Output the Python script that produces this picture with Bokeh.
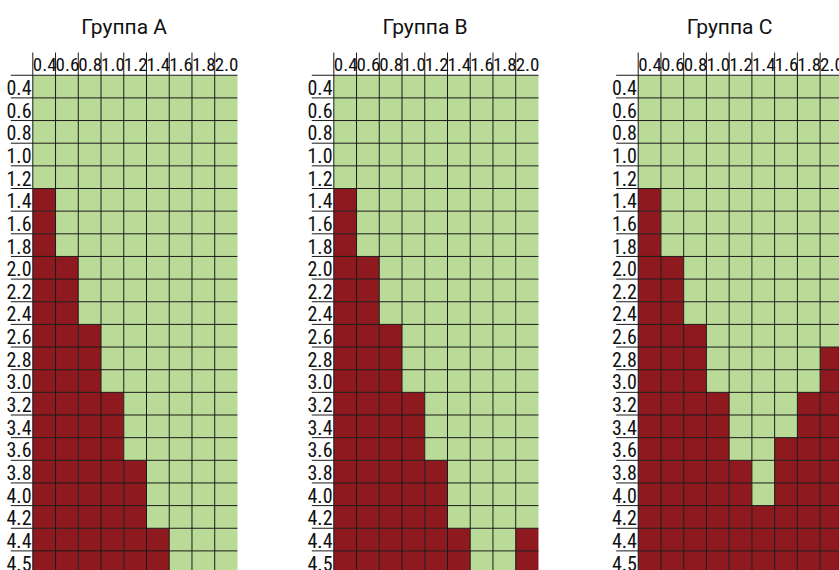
from bokeh.plotting import figure
from bokeh.models import Range1d
from bokeh.embed import file_html
from bokeh.resources import INLINE
from bokeh.core.properties import value

# ---------------- data ----------------
group_titles = ["Группа A", "Группа B", "Группа C"]
col_labels = ["0.4", "0.6", "0.8", "1.0", "1.2", "1.4", "1.6", "1.8", "2.0"]
row_labels = ["0.4", "0.6", "0.8", "1.0", "1.2", "1.4", "1.6", "1.8", "2.0", "2.2", "2.4",
              "2.6", "2.8", "3.0", "3.2", "3.4", "3.6", "3.8", "4.0", "4.2", "4.4", "4.5"]
# for each column: first row (label) from which the cell is red; None = never red
first_red_a = ["1.4", "2.0", "2.6", "3.2", "3.8", "4.4", None, None, None]
first_red_b = ["1.4", "2.0", "2.6", "3.2", "3.8", "4.4", None, None, "4.4"]
first_red_c = ["1.4", "2.0", "2.6", "3.2", "3.8", "4.2", "3.6", "3.2", "2.8"]
first_red = [first_red_a, first_red_b, first_red_c]

# ---------------- layout ----------------
RED = "#8E191E"
GREEN = "#BADB97"
LINE = "#1a1a1a"
grid_left = [32.3, 333.3, 637.7]
label_w = 22.0
cw = 22.74
rh = 22.65
header_top = 52.0
body_top = 74.75
title_y = 26.5
num_font = "Roboto Condensed"

p = figure(width=839, height=570, x_range=Range1d(0, 839), y_range=Range1d(570, 0),
           output_backend="svg", toolbar_location=None, x_axis_type=None, y_axis_type=None,
           min_border=0, outline_line_color=None, background_fill_color="white")

nrows = len(row_labels)
ncols = len(col_labels)
bottom_edge = body_top + nrows * rh

for g, x0 in enumerate(grid_left):
    L, R, T, B, C = [], [], [], [], []
    for j in range(ncols):
        fr = first_red[g][j]
        fi = row_labels.index(fr) if fr is not None else nrows
        for i in range(nrows):
            L.append(x0 + j * cw)
            R.append(x0 + (j + 1) * cw)
            T.append(body_top + i * rh)
            B.append(body_top + (i + 1) * rh)
            C.append(RED if i >= fi else GREEN)
    p.quad(left=L, right=R, top=T, bottom=B, fill_color=C, line_color=None)

    # vertical column separators, from header down
    vx = [x0 + j * cw for j in range(ncols)]
    p.segment(x0=vx, y0=[header_top] * ncols, x1=vx, y1=[bottom_edge] * ncols,
              line_color=LINE, line_width=1)
    # horizontal row separators spanning label column and grid
    hy = [body_top + i * rh for i in range(nrows + 1)]
    p.segment(x0=[x0 - label_w] * len(hy), y0=hy, x1=[x0 + ncols * cw] * len(hy), y1=hy,
              line_color=LINE, line_width=1)

    # header labels
    p.text(x=[x0 + (j + 0.5) * cw + 0.5 for j in range(ncols)], y=[body_top - 11.0] * ncols,
           text=col_labels, text_font=value(num_font), text_font_size="19px",
           text_align="center", text_baseline="middle", text_color="#111111")
    # row labels
    p.text(x=[x0 - 1.3] * nrows, y=[body_top + (i + 0.5) * rh + 0.9 for i in range(nrows)],
           text=row_labels, text_font=value(num_font), text_font_size="20px",
           text_align="right", text_baseline="middle", text_color="#111111")
    # title
    p.text(x=[(x0 - label_w + x0 + ncols * cw) / 2], y=[title_y], text=[group_titles[g]],
           text_font=value("Roboto"), text_font_size="21px", text_align="center",
           text_baseline="middle", text_color="#111111")

open("out.html", "w").write(file_html(p, INLINE))
